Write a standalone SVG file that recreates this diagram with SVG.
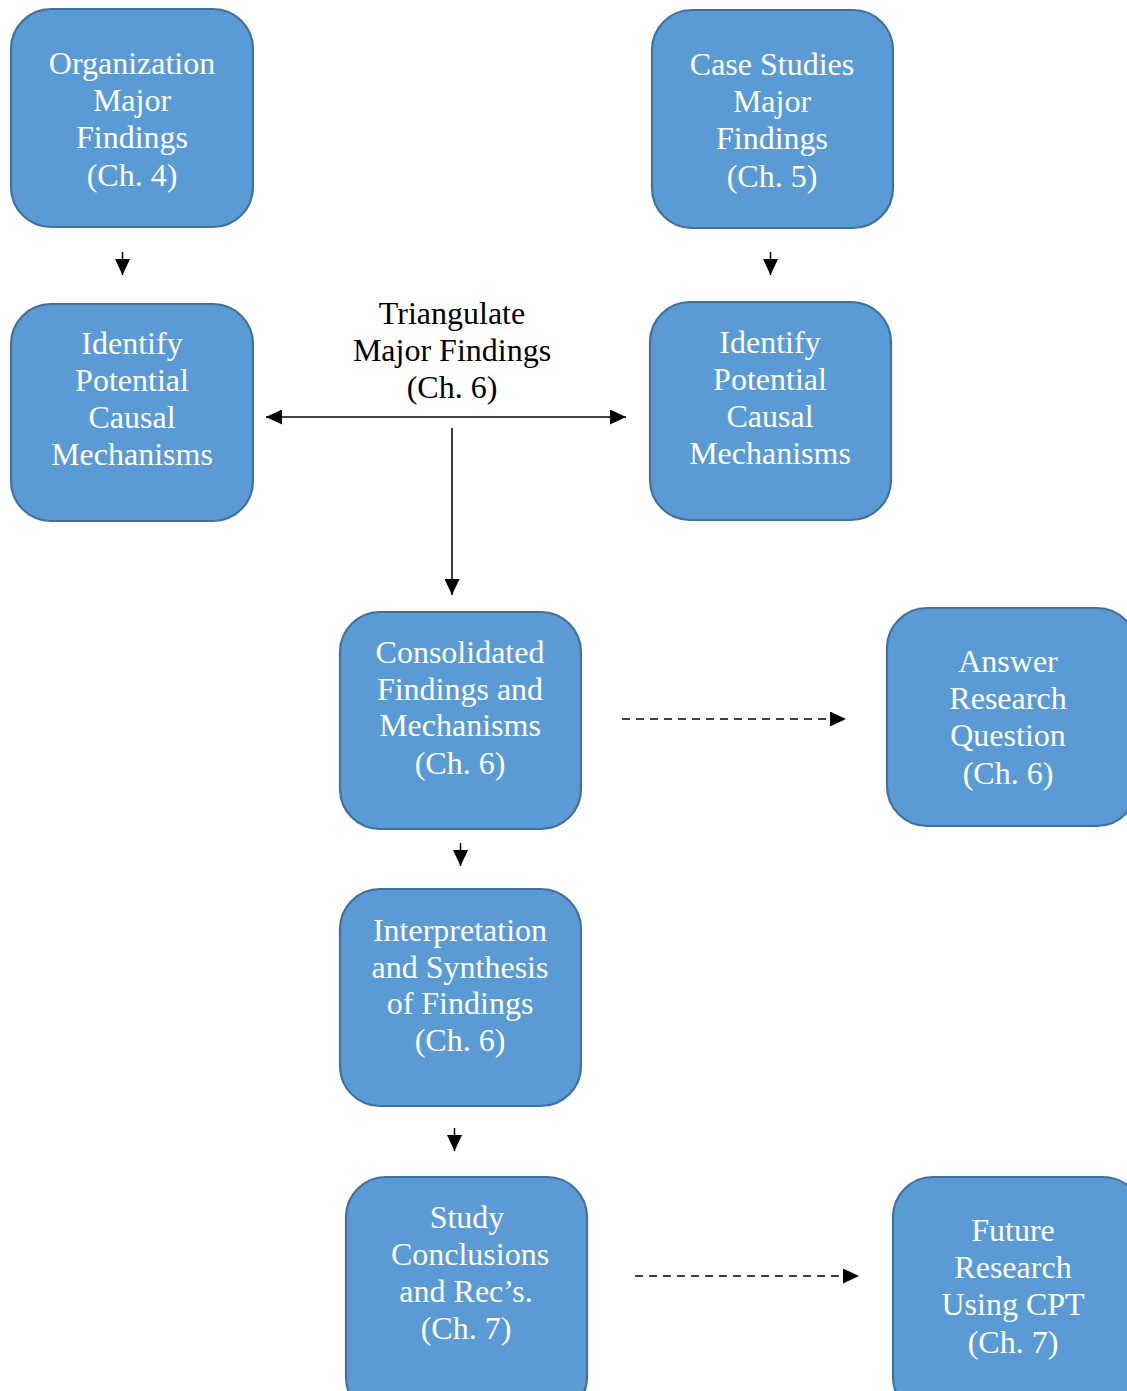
<svg xmlns="http://www.w3.org/2000/svg" width="1127" height="1391" viewBox="0 0 1127 1391">
  <style>
    .box { fill: #5b9bd5; stroke: #41719c; stroke-width: 2.2; }
    .lbl { font-family: "Liberation Serif", "Times New Roman", serif; font-size: 32px; fill: #ffffff; text-anchor: middle; }
    .cap { font-family: "Liberation Serif", "Times New Roman", serif; font-size: 32px; fill: #000000; text-anchor: middle; }
    .link { stroke: #000000; stroke-width: 1.5; fill: none; }
    .dash { stroke-dasharray: 8 6; }
  </style>
  <defs>
    <marker id="head" viewBox="0 0 16 15" refX="16" refY="7.5" markerWidth="16" markerHeight="15" markerUnits="userSpaceOnUse" orient="auto-start-reverse">
      <path d="M0,0 L16,7.5 L0,15 Z" fill="#000000"/>
    </marker>
  </defs>

  <rect width="1127" height="1391" fill="#ffffff"/>

  <g id="connectors">
    <line class="link" x1="122.5" y1="252" x2="122.5" y2="275" marker-end="url(#head)"/>
    <line class="link" x1="770.5" y1="252" x2="770.5" y2="275" marker-end="url(#head)"/>
    <line class="link" x1="266" y1="417" x2="626" y2="417" marker-start="url(#head)" marker-end="url(#head)"/>
    <line class="link" x1="452" y1="428" x2="452" y2="595" marker-end="url(#head)"/>
    <line class="link" x1="460.5" y1="843" x2="460.5" y2="866" marker-end="url(#head)"/>
    <line class="link" x1="454.5" y1="1128" x2="454.5" y2="1151" marker-end="url(#head)"/>
    <line class="link dash" x1="622" y1="719" x2="846" y2="719" marker-end="url(#head)"/>
    <line class="link dash" x1="635" y1="1276" x2="859" y2="1276" marker-end="url(#head)"/>
  </g>

  <g id="triangulate-label">
    <text class="cap" x="452" y="324">Triangulate</text>
    <text class="cap" x="452" y="361">Major Findings</text>
    <text class="cap" x="452" y="398">(Ch. 6)</text>
  </g>

  <g id="org-findings">
    <rect class="box" x="11" y="9" width="242" height="218" rx="40" ry="40"/>
    <text class="lbl" x="132" y="74">Organization</text>
    <text class="lbl" x="132" y="111">Major</text>
    <text class="lbl" x="132" y="148">Findings</text>
    <text class="lbl" x="132" y="186">(Ch. 4)</text>
  </g>

  <g id="case-findings">
    <rect class="box" x="652" y="10" width="241" height="218" rx="40" ry="40"/>
    <text class="lbl" x="772" y="75">Case Studies</text>
    <text class="lbl" x="772" y="112">Major</text>
    <text class="lbl" x="772" y="149">Findings</text>
    <text class="lbl" x="772" y="187">(Ch. 5)</text>
  </g>

  <g id="mechanisms-left">
    <rect class="box" x="11" y="304" width="242" height="217" rx="40" ry="40"/>
    <text class="lbl" x="132" y="354">Identify</text>
    <text class="lbl" x="132" y="391">Potential</text>
    <text class="lbl" x="132" y="428">Causal</text>
    <text class="lbl" x="132" y="465">Mechanisms</text>
  </g>

  <g id="mechanisms-right">
    <rect class="box" x="650" y="302" width="241" height="218" rx="40" ry="40"/>
    <text class="lbl" x="770" y="353">Identify</text>
    <text class="lbl" x="770" y="390">Potential</text>
    <text class="lbl" x="770" y="427">Causal</text>
    <text class="lbl" x="770" y="464">Mechanisms</text>
  </g>

  <g id="consolidated">
    <rect class="box" x="340" y="612" width="241" height="217" rx="40" ry="40"/>
    <text class="lbl" x="460" y="663">Consolidated</text>
    <text class="lbl" x="460" y="700">Findings and</text>
    <text class="lbl" x="460" y="736">Mechanisms</text>
    <text class="lbl" x="460" y="774">(Ch. 6)</text>
  </g>

  <g id="answer-question">
    <rect class="box" x="887" y="608" width="250" height="218" rx="40" ry="40"/>
    <text class="lbl" x="1008" y="672">Answer</text>
    <text class="lbl" x="1008" y="709">Research</text>
    <text class="lbl" x="1008" y="746">Question</text>
    <text class="lbl" x="1008" y="784">(Ch. 6)</text>
  </g>

  <g id="interpretation">
    <rect class="box" x="340" y="889" width="241" height="217" rx="40" ry="40"/>
    <text class="lbl" x="460" y="941">Interpretation</text>
    <text class="lbl" x="460" y="978">and Synthesis</text>
    <text class="lbl" x="460" y="1014">of Findings</text>
    <text class="lbl" x="460" y="1051">(Ch. 6)</text>
  </g>

  <g id="conclusions">
    <rect class="box" x="346" y="1177" width="241" height="240" rx="40" ry="40"/>
    <text class="lbl" x="467" y="1228">Study</text>
    <text class="lbl" x="470" y="1265">Conclusions</text>
    <text class="lbl" x="466" y="1302">and Rec’s.</text>
    <text class="lbl" x="466" y="1339">(Ch. 7)</text>
  </g>

  <g id="future-research">
    <rect class="box" x="893" y="1177" width="250" height="240" rx="40" ry="40"/>
    <text class="lbl" x="1013" y="1241">Future</text>
    <text class="lbl" x="1013" y="1278">Research</text>
    <text class="lbl" x="1013" y="1315">Using CPT</text>
    <text class="lbl" x="1013" y="1353">(Ch. 7)</text>
  </g>
</svg>
